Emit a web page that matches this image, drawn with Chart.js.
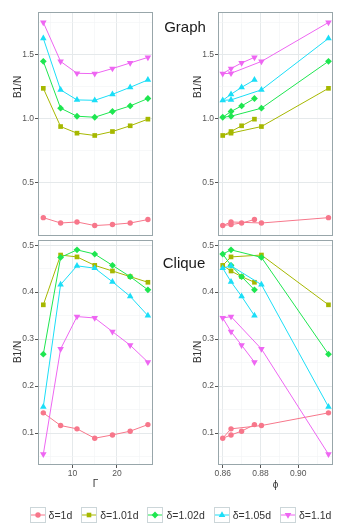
<!DOCTYPE html>
<html>
<head>
<meta charset="utf-8">
<script src="https://cdn.jsdelivr.net/npm/chart.js@4.4.1/dist/chart.umd.min.js"></script>
<style>
  body { margin: 0; background: #fff; font-family: "Liberation Sans", Arial, sans-serif; }
  #fig { position: relative; width: 361px; height: 532px; overflow: hidden; }
  #fig canvas { position: absolute; left: 0; top: 0; }
  .txt { position: absolute; white-space: nowrap; line-height: 1; }
  .strip { font-size: 15px; color: #1a1a1a; transform: translateX(-50%); }
  .ytitle { font-size: 10px; color: #333; transform: translate(-50%, -50%) rotate(-90deg); }
  .xtitle { font-size: 10px; color: #333; transform: translate(-50%, -50%); }
  #legend { position: absolute; left: 0; width: 361px; top: 507px; display: flex; justify-content: center; align-items: center; font-size: 10.5px; color: #333; }
  .item { display: flex; align-items: center; margin: 0 4.5px; }
  .item svg { margin-right: 3px; }
</style>
</head>
<body>
<div id="fig">
  <canvas id="graphGamma" width="361" height="532"></canvas>
  <canvas id="graphPhi" width="361" height="532"></canvas>
  <canvas id="cliqueGamma" width="361" height="532"></canvas>
  <canvas id="cliquePhi" width="361" height="532"></canvas>

  <div class="txt strip" style="left:185px;top:19px;">Graph</div>
  <div class="txt strip" style="left:184px;top:255px;">Clique</div>
  <div class="txt ytitle" style="left:18px;top:87px;">B1/N</div>
  <div class="txt ytitle" style="left:198px;top:87px;">B1/N</div>
  <div class="txt ytitle" style="left:18px;top:352px;">B1/N</div>
  <div class="txt ytitle" style="left:198px;top:352px;">B1/N</div>
  <div class="txt xtitle" style="left:95.5px;top:484px;">Γ</div>
  <div class="txt xtitle" style="left:275.5px;top:485px;">ϕ</div>
  <div id="legend"></div>
</div>

<script>
// x values: Γ and the matching ϕ for each of the 7 runs
const gamma = [3.4, 7.3, 11, 15, 19, 23, 27];
const phi = [0.916, 0.8805, 0.8644, 0.86, 0.8644, 0.870, 0.8768];

const deltas = ['δ=1d', 'δ=1.01d', 'δ=1.02d', 'δ=1.05d', 'δ=1.1d'];

// B1/N, Graph case
const graphD100 = [0.222, 0.180, 0.188, 0.160, 0.168, 0.180, 0.207];
const graphD101 = [1.237, 0.937, 0.885, 0.867, 0.898, 0.943, 0.995];
const graphD102 = [1.449, 1.081, 1.018, 1.010, 1.055, 1.099, 1.157];
const graphD105 = [1.629, 1.225, 1.146, 1.143, 1.190, 1.245, 1.303];
const graphD110 = [1.754, 1.448, 1.355, 1.352, 1.392, 1.436, 1.480];

// B1/N, Clique case
const cliqueD100 = [0.143, 0.116, 0.109, 0.089, 0.096, 0.104, 0.118];
const cliqueD101 = [0.373, 0.479, 0.475, 0.457, 0.445, 0.433, 0.421];
const cliqueD102 = [0.268, 0.474, 0.490, 0.481, 0.457, 0.433, 0.405];
const cliqueD105 = [0.156, 0.416, 0.456, 0.451, 0.422, 0.391, 0.350];
const cliqueD110 = [0.055, 0.279, 0.348, 0.345, 0.316, 0.287, 0.251];

// axis ticks (major ones get labels)
const gammaTicks = [5, 10, 15, 20, 25];
const gammaLabels = [10, 20];
const phiTicks = [0.86, 0.87, 0.88, 0.89, 0.90, 0.91];
const phiLabels = [0.86, 0.88, 0.90];
const graphTicks = [0.25, 0.5, 0.75, 1.0, 1.25, 1.5, 1.75];
const graphLabels = [0.5, 1.0, 1.5];
const cliqueTicks = [0.05, 0.1, 0.15, 0.2, 0.25, 0.3, 0.35, 0.4, 0.45, 0.5];
const cliqueLabels = [0.1, 0.2, 0.3, 0.4, 0.5];

// styles
const FONT = '"Liberation Sans", Arial, sans-serif';
const colors = ['#f7778b', '#a6b800', '#1ee650', '#1bdef7', '#ee66f2'];
const shapes = ['circle', 'rect', 'rectRot', 'triangle', 'triangle'];
const rotations = [0, 0, 0, 0, 180];
const radii = [2.7, 3.3, 3.4, 3.8, 3.8];
const borderCol = '#98a6aa';

const has = (arr, v) => arr.some(m => Math.abs(m - v) < 1e-9);

function axis(min, max, ticks, labels, fmt, size, showLabels) {
    return {
        type: 'linear', min: min, max: max,
        afterBuildTicks: s => { s.ticks = ticks.map(v => ({ value: v })); },
        afterFit: s => { if (s.isHorizontal()) s.height = size; else s.width = size; },
        ticks: {
            display: showLabels, autoSkip: false, maxRotation: 0, padding: 1,
            color: '#555', font: { family: FONT, size: 8.5 },
            callback: v => has(labels, v) ? fmt(v) : ''
        },
        grid: {
            drawTicks: showLabels, tickLength: 3,
            color: c => has(labels, c.tick.value) ? '#e5e9eb' : '#f2f4f5',
            lineWidth: c => has(labels, c.tick.value) ? 1 : 0.6,
            tickColor: c => has(labels, c.tick.value) ? '#555' : 'rgba(0,0,0,0)'
        },
        border: { display: false }
    };
}

const panelBorder = {
    id: 'panelBorder',
    afterDraw(chart) {
        const a = chart.chartArea, c = chart.ctx;
        c.save();
        c.strokeStyle = borderCol;
        c.lineWidth = 1;
        c.strokeRect(a.left + 0.5, a.top + 0.5, a.right - a.left - 1, a.bottom - a.top - 1);
        c.restore();
    }
};

function makePanel(id, xs, series, xAxis, yAxis, padding) {
    new Chart(document.getElementById(id), {
        type: 'line',
        data: {
            datasets: series.map((ys, i) => ({
                label: deltas[i],
                data: ys.map((y, j) => ({ x: xs[j], y: y })),
                borderColor: colors[i],
                backgroundColor: colors[i],
                borderWidth: 1,
                pointStyle: shapes[i],
                pointRotation: rotations[i],
                pointRadius: radii[i],
                pointBorderWidth: 0,
                tension: 0,
                order: 4 - i,
                clip: false
            }))
        },
        options: {
            responsive: false, animation: false,
            layout: { padding: padding },
            plugins: { legend: { display: false }, tooltip: { enabled: false } },
            scales: { x: xAxis, y: yAxis }
        },
        plugins: [panelBorder]
    });
}

const graphSeries = [graphD100, graphD101, graphD102, graphD105, graphD110];
const cliqueSeries = [cliqueD100, cliqueD101, cliqueD102, cliqueD105, cliqueD110];

const fmtInt = v => String(v);
const fmt1 = v => v.toFixed(1);
const fmt2 = v => v.toFixed(2);

const graphY = () => axis(0.078, 1.836, graphTicks, graphLabels, fmt1, 38, true);
const cliqueY = () => axis(0.032, 0.511, cliqueTicks, cliqueLabels, fmt1, 38, true);

makePanel('graphGamma', gamma, graphSeries,
    axis(2.2, 28.15, gammaTicks, gammaLabels, fmtInt, 0, false), graphY(),
    { left: 0, top: 12, right: 208, bottom: 296 });
makePanel('graphPhi', phi, graphSeries,
    axis(0.8575, 0.9184, phiTicks, phiLabels, fmt2, 0, false), graphY(),
    { left: 180, top: 12, right: 28, bottom: 296 });
makePanel('cliqueGamma', gamma, cliqueSeries,
    axis(2.2, 28.15, gammaTicks, gammaLabels, fmtInt, 20, true), cliqueY(),
    { left: 0, top: 240, right: 208, bottom: 47 });
makePanel('cliquePhi', phi, cliqueSeries,
    axis(0.8575, 0.9184, phiTicks, phiLabels, fmt2, 20, true), cliqueY(),
    { left: 180, top: 240, right: 28, bottom: 47 });

// legend (ggplot style keys)
function markerSvg(i) {
    const c = colors[i];
    let m;
    if (shapes[i] === 'circle') m = `<circle cx="8" cy="8" r="2.7" fill="${c}"/>`;
    else if (shapes[i] === 'rect') m = `<rect x="5.7" y="5.7" width="4.6" height="4.6" fill="${c}"/>`;
    else if (shapes[i] === 'rectRot') m = `<polygon points="8,4.6 11.4,8 8,11.4 4.6,8" fill="${c}"/>`;
    else if (rotations[i] === 180) m = `<polygon points="4.7,6.1 11.3,6.1 8,11.8" fill="${c}"/>`;
    else m = `<polygon points="8,4.2 11.3,9.9 4.7,9.9" fill="${c}"/>`;
    return `<svg width="16" height="16"><rect x="0.5" y="0.5" width="15" height="15" fill="#fff" stroke="#ccd6d9"/>` +
        `<line x1="1" y1="8" x2="15" y2="8" stroke="${c}" stroke-width="1"/>${m}</svg>`;
}
const legend = document.getElementById('legend');
deltas.forEach((d, i) => {
    const el = document.createElement('div');
    el.className = 'item';
    el.innerHTML = markerSvg(i) + '<span>' + d + '</span>';
    legend.appendChild(el);
});
</script>
</body>
</html>
